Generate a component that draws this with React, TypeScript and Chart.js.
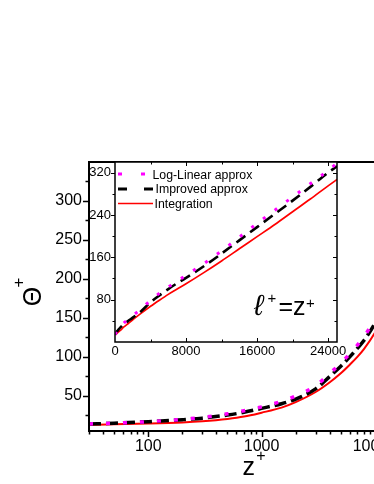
import React, { useEffect, useRef } from "react";
import { Chart, registerables } from "chart.js";

Chart.register(...registerables);

// ---- data ----
const zPlus = [30, 50, 100, 200, 300, 500, 700, 1000, 1500, 2000, 3000, 4000, 5000, 6000, 7000, 8000, 10000, 12000, 14000, 16000, 18000, 20000, 22000, 24000, 25000];
const logLinear = [14, 15, 17, 20, 22.5, 27, 31, 36, 43, 50, 63, 79, 92, 104, 115, 126, 148, 172, 198, 224, 249, 274, 299, 324, 338];
const improved = [14, 15, 17, 19.5, 21.5, 25.5, 29, 34, 40, 46, 59, 75, 88, 100, 111, 121, 143, 167, 192, 217, 242, 267, 293, 320, 332];
const integration = [13, 13.5, 14.5, 16, 17.5, 20.5, 23.5, 28.5, 35, 42, 55, 67.5, 79, 90, 100, 110, 131, 153, 176, 199, 222, 246, 270, 295, 307];

const legendLabels = ["Log-Linear approx", "Improved approx", "Integration"];

const mainXTicks = [100, 1000, 10000];
const mainYTicks = [50, 100, 150, 200, 250, 300];
const insetXTicks = [0, 8000, 16000, 24000];
const insetYTicks = [80, 160, 240, 320];

const FONT = "'Liberation Sans', Arial, Helvetica, sans-serif";

const mkPoints = (arr: number[]) => zPlus.map((z, i) => ({ x: z, y: arr[i] }));

const mainFrame = {
  id: "mainFrame",
  afterDraw(chart: any) {
    const { ctx, chartArea: a, scales } = chart;
    const x = scales.x;
    const y = scales.y;
    ctx.save();
    ctx.strokeStyle = "#000";
    ctx.lineWidth = 2;
    ctx.beginPath();
    ctx.moveTo(a.left, a.top);
    ctx.lineTo(a.left, a.bottom + 1);
    ctx.moveTo(a.left - 1, a.bottom);
    ctx.lineTo(a.right, a.bottom);
    ctx.moveTo(a.left - 1, a.top);
    ctx.lineTo(a.right, a.top);
    ctx.stroke();
    ctx.lineWidth = 1.5;
    ctx.beginPath();
    for (let v = 25; v <= 325; v += 25) {
      const len = v % 50 === 0 ? 6 : 3.5;
      const py = Math.round(y.getPixelForValue(v)) + 0.5;
      ctx.moveTo(a.left, py);
      ctx.lineTo(a.left - len, py);
    }
    for (let d = 10; d <= 10000; d *= 10) {
      for (let m = 1; m <= 9; m++) {
        const v = m * d;
        if (v < 30 || v > 25000) continue;
        const len = m === 1 ? 6 : 3.5;
        const px = Math.round(x.getPixelForValue(v)) + 0.5;
        ctx.moveTo(px, a.bottom);
        ctx.lineTo(px, a.bottom + len);
      }
    }
    ctx.stroke();
    ctx.restore();
  },
};

const insetFrame = {
  id: "insetFrame",
  beforeDatasetsDraw(chart: any) {
    const { ctx, chartArea: a } = chart;
    ctx.save();
    ctx.fillStyle = "#fff";
    ctx.fillRect(a.left, a.top, a.right - a.left, a.bottom - a.top);
    ctx.restore();
  },
  afterDraw(chart: any) {
    const { ctx, chartArea: a, scales } = chart;
    const x = scales.x;
    const y = scales.y;
    ctx.save();
    ctx.strokeStyle = "#000";
    ctx.lineWidth = 1.5;
    ctx.strokeRect(a.left, a.top, a.right - a.left, a.bottom - a.top);
    ctx.lineWidth = 1;
    ctx.beginPath();
    for (let v = 40; v <= 320; v += 40) {
      const len = v % 80 === 0 ? 4 : 2.5;
      const py = Math.round(y.getPixelForValue(v)) + 0.5;
      ctx.moveTo(a.left, py);
      ctx.lineTo(a.left - len, py);
      ctx.moveTo(a.right, py);
      ctx.lineTo(a.right - len, py);
    }
    for (let v = 4000; v <= 24000; v += 4000) {
      const len = v % 8000 === 0 ? 4 : 2.5;
      const px = Math.round(x.getPixelForValue(v)) + 0.5;
      ctx.moveTo(px, a.bottom);
      ctx.lineTo(px, a.bottom - len);
      ctx.moveTo(px, a.top);
      ctx.lineTo(px, a.top + len);
    }
    ctx.stroke();
    ctx.restore();
  },
};

export default function App() {
  const mainRef = useRef<HTMLCanvasElement>(null);
  const insetRef = useRef<HTMLCanvasElement>(null);

  useEffect(() => {
    const main = new Chart(mainRef.current as HTMLCanvasElement, {
      type: "line",
      data: {
        datasets: [
          { label: legendLabels[0], data: mkPoints(logLinear), borderColor: "#ff00ff", borderWidth: 3.5, borderDash: [4, 13], order: 0 },
          { label: legendLabels[1], data: mkPoints(improved), borderColor: "#000000", borderWidth: 3.5, borderDash: [12, 5], order: 1 },
          { label: legendLabels[2], data: mkPoints(integration), borderColor: "#ff0000", borderWidth: 2, order: 2 },
        ] as any,
      },
      options: {
        responsive: false,
        animation: false,
        layout: { padding: { top: 162, right: 20, left: 0, bottom: 0 } },
        elements: { point: { radius: 0 }, line: { cubicInterpolationMode: "monotone", fill: false } },
        plugins: { legend: { display: false }, tooltip: { enabled: false } },
        scales: {
          x: {
            type: "logarithmic",
            min: 30,
            max: 25000,
            grid: { display: false, drawTicks: false },
            border: { display: false },
            afterBuildTicks: (s: any) => { s.ticks = mainXTicks.map((v) => ({ value: v })); },
            afterFit: (s: any) => { s.height = 53; },
            ticks: { autoSkip: false, maxRotation: 0, padding: 6, color: "#000", font: { family: FONT, size: 16 }, callback: (v: any) => String(v) },
          },
          y: {
            type: "linear",
            min: 5,
            max: 350,
            grid: { display: false, drawTicks: false },
            border: { display: false },
            afterBuildTicks: (s: any) => { s.ticks = mainYTicks.map((v) => ({ value: v })); },
            afterFit: (s: any) => { s.width = 89; },
            ticks: { autoSkip: false, padding: 7, color: "#000", font: { family: FONT, size: 16 }, callback: (v: any) => String(v) },
          },
        },
      } as any,
      plugins: [mainFrame],
    });

    const inset = new Chart(insetRef.current as HTMLCanvasElement, {
      type: "line",
      data: {
        datasets: [
          { label: legendLabels[0], data: mkPoints(logLinear), borderColor: "#ff00ff", borderWidth: 3, borderDash: [3, 11.5], order: 0 },
          { label: legendLabels[1], data: mkPoints(improved), borderColor: "#000000", borderWidth: 2.6, borderDash: [11, 6], order: 1 },
          { label: legendLabels[2], data: mkPoints(integration), borderColor: "#ff0000", borderWidth: 1.7, order: 2 },
        ] as any,
      },
      options: {
        responsive: false,
        animation: false,
        layout: { padding: { top: 12, right: 13, left: 0, bottom: 0 } },
        elements: { point: { radius: 0 }, line: { cubicInterpolationMode: "monotone", fill: false } },
        plugins: { legend: { display: false }, tooltip: { enabled: false } },
        scales: {
          x: {
            type: "linear",
            min: 0,
            max: 25000,
            grid: { display: false, drawTicks: false },
            border: { display: false },
            afterBuildTicks: (s: any) => { s.ticks = insetXTicks.map((v) => ({ value: v })); },
            afterFit: (s: any) => { s.height = 28; },
            ticks: { autoSkip: false, maxRotation: 0, padding: 2, color: "#000", font: { family: FONT, size: 13 }, callback: (v: any) => String(v) },
          },
          y: {
            type: "linear",
            min: 0,
            max: 340,
            grid: { display: false, drawTicks: false },
            border: { display: false },
            afterBuildTicks: (s: any) => { s.ticks = insetYTicks.map((v) => ({ value: v })); },
            afterFit: (s: any) => { s.width = 45; },
            ticks: { autoSkip: false, padding: 4, color: "#000", font: { family: FONT, size: 13 }, callback: (v: any) => String(v) },
          },
        },
      } as any,
      plugins: [insetFrame],
    });

    return () => {
      main.destroy();
      inset.destroy();
    };
  }, []);

  return (
    <div style={{ position: "absolute", left: 0, top: 0, width: 374, height: 484, overflow: "hidden", background: "#fff" }}>
      <canvas ref={mainRef} width={440} height={484} style={{ position: "absolute", left: 0, top: 0, width: 440, height: 484 }} />
      <canvas ref={insetRef} width={280} height={220} style={{ position: "absolute", left: 70, top: 150, width: 280, height: 220 }} />
      <svg width={374} height={484} style={{ position: "absolute", left: 0, top: 0, pointerEvents: "none" }} fontFamily={FONT}>
        {/* legend of the inset */}
        <line x1={118} y1={174} x2={153} y2={174} stroke="#ff00ff" strokeWidth={3} strokeDasharray="4 19" />
        <line x1={118} y1={189} x2={153} y2={189} stroke="#000" strokeWidth={3} strokeDasharray="9 17" />
        <line x1={118} y1={203.5} x2={153} y2={203.5} stroke="#ff0000" strokeWidth={1.7} />
        <text x={152.5} y={178.5} fontSize={12.3} fill="#000">{legendLabels[0]}</text>
        <text x={155.5} y={193} fontSize={12.3} fill="#000">{legendLabels[1]}</text>
        <text x={154.5} y={207.5} fontSize={12.3} fill="#000">{legendLabels[2]}</text>
        {/* annotation l+ = z+ */}
        <text y={315} fontSize={25} fill="#000">
          <tspan x={254} fontSize={29} fontStyle="italic">ℓ</tspan>
          <tspan x={267.5} dy={-12} fontSize={15}>+</tspan>
          <tspan x={278.5} dy={12}>=z</tspan>
          <tspan x={306} dy={-7.5} fontSize={15}>+</tspan>
        </text>
        {/* x axis title */}
        <text y={475} fontSize={25} fill="#000">
          <tspan x={242.5}>z</tspan>
          <tspan x={256.3} dy={-14.5} fontSize={16}>+</tspan>
        </text>
        {/* y axis title, rotated */}
        <g transform="translate(41,305) rotate(-90)">
          <text y={0} fontSize={25} fill="#000">
            <tspan x={-1.2}>Θ</tspan>
            <tspan x={17.6} dy={-17.5} fontSize={17}>+</tspan>
          </text>
        </g>
      </svg>
    </div>
  );
}
